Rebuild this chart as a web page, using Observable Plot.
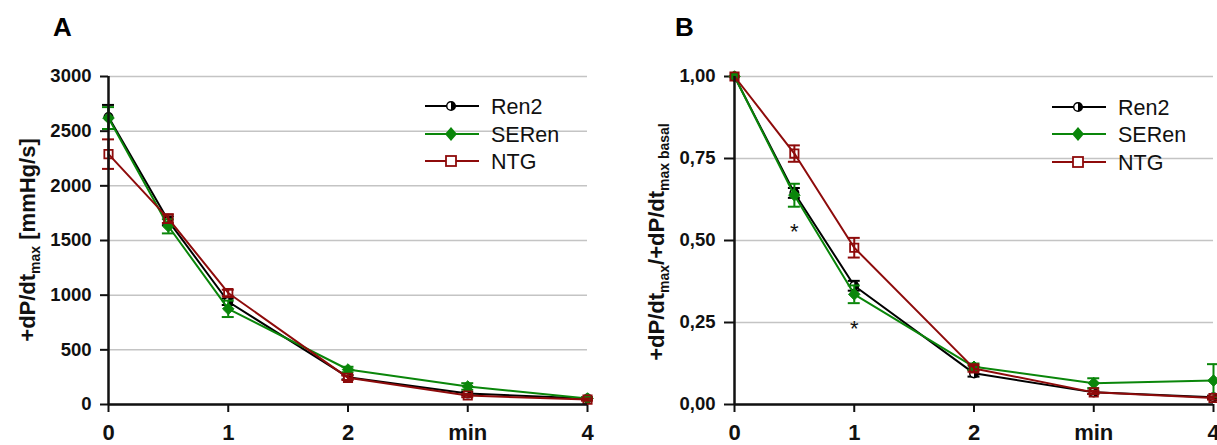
<!DOCTYPE html>
<html><head><meta charset="utf-8">
<script src="https://cdn.jsdelivr.net/npm/d3@7"></script>
<script src="https://cdn.jsdelivr.net/npm/@observablehq/plot@0.6"></script>
<style>
html,body{margin:0;padding:0;background:#fff;overflow:hidden;width:1217px;height:445px;}
#wrap{position:relative;width:1217px;height:445px;font-family:"Liberation Sans",Arial,Helvetica,sans-serif;}
.panel{position:absolute;top:0;}
.panel svg{max-width:none;overflow:visible;}
#overlay{position:absolute;left:0;top:0;pointer-events:none;}
</style>
</head><body>
<div id="wrap"><div class="panel" id="pA" style="left:0"></div><div class="panel" id="pB" style="left:609px"></div></div>
<script>
// ---------- data ----------
const seriesNames = ["Ren2", "SERen", "NTG"];
const seriesColors = ["#000000", "#0a860a", "#8e0b0b"];
const times = [0, 0.5, 1, 2, 3, 4];
const xTicks = [0, 1, 2, 3, 4];
const xTickLabels = ["0", "1", "2", "min", "4"];

// Panel A: +dP/dt max [mmHg/s]
const ren2A = [2630, 1680, 940, 250, 100, 55];
const ren2AErr = [110, 40, 30, 20, 15, 10];
const serenA = [2620, 1630, 875, 320, 165, 55];
const serenAErr = [100, 65, 75, 25, 30, 10];
const ntgA = [2290, 1700, 1020, 244, 82, 45];
const ntgAErr = [135, 40, 30, 20, 15, 10];
const yTicksA = [0, 500, 1000, 1500, 2000, 2500, 3000];

// Panel B: normalised to basal
const ren2B = [1, 0.645, 0.362, 0.095, 0.037, 0.022];
const ren2BErr = [0, 0.015, 0.015, 0.01, 0.005, 0.005];
const serenB = [1, 0.638, 0.336, 0.115, 0.065, 0.073];
const serenBErr = [0, 0.035, 0.027, 0.01, 0.015, 0.05];
const ntgB = [1, 0.765, 0.478, 0.11, 0.037, 0.02];
const ntgBErr = [0, 0.025, 0.03, 0.01, 0.005, 0.005];
const yTicksB = [0, 0.25, 0.5, 0.75, 1];
const starTimes = [0.5, 1];
const starValues = [0.54, 0.245];

// ---------- helpers ----------
function rows(vals, errs) {
  const out = [];
  vals.forEach((vs, si) => vs.forEach((v, i) => out.push({series: seriesNames[si], t: times[i], v, e: errs[si][i]})));
  return out;
}
const halfRight = {draw(ctx, size) { const r = Math.sqrt(size / Math.PI); ctx.moveTo(0, -r); ctx.arc(0, 0, r, -Math.PI / 2, Math.PI / 2); ctx.closePath(); }};
const ringSym = {draw(ctx, size) { const r = Math.sqrt(size / Math.PI); ctx.moveTo(r, 0); ctx.arc(0, 0, r, 0, 2 * Math.PI); ctx.closePath(); }};
const capW = 0.05;

function seriesMarks(data) {
  const marks = [];
  seriesNames.forEach((name, si) => {
    const d = data.filter(r => r.series === name);
    const c = seriesColors[si];
    const de = d.filter(r => r.e > 0);
    marks.push(Plot.line(d, {x: "t", y: "v", stroke: c, strokeWidth: 2}));
    marks.push(Plot.ruleX(de, {x: "t", y1: r => r.v - r.e, y2: r => r.v + r.e, stroke: c, strokeWidth: 2}));
    marks.push(Plot.ruleY(de, {y: r => r.v + r.e, x1: r => r.t - capW, x2: r => r.t + capW, stroke: c, strokeWidth: 2}));
    marks.push(Plot.ruleY(de, {y: r => r.v - r.e, x1: r => r.t - capW, x2: r => r.t + capW, stroke: c, strokeWidth: 2}));
    if (name === "Ren2") {
      marks.push(Plot.dot(d, {x: "t", y: "v", symbol: ringSym, r: 4.3, fill: "white", stroke: c, strokeWidth: 1.5}));
      marks.push(Plot.dot(d, {x: "t", y: "v", symbol: halfRight, r: 4.3, fill: c, stroke: "none"}));
    } else if (name === "SERen") {
      marks.push(Plot.dot(d, {x: "t", y: "v", symbol: "diamond2", r: 5.2, fill: c, stroke: c, strokeWidth: 1}));
    } else {
      marks.push(Plot.dot(d, {x: "t", y: "v", symbol: "square2", r: 5.3, fill: "white", fillOpacity: 0, stroke: c, strokeWidth: 1.8}));
    }
  });
  return marks;
}

function panel(opts) {
  return Plot.plot({
    width: 608, height: 445,
    marginLeft: opts.ml, marginRight: opts.mr, marginTop: 76, marginBottom: 41,
    style: {fontFamily: '"Liberation Sans",Arial,Helvetica,sans-serif', background: "white", overflow: "visible"},
    x: {domain: [0, 4]},
    y: {domain: opts.yDomain},
    marks: [
      Plot.gridY(opts.yTicks, {stroke: "#c4c4c4", strokeOpacity: 1, strokeWidth: 1.5}),
      Plot.axisY(opts.yTicks, {tickSize: opts.ts, tickPadding: 9, fontSize: 18.5, fontWeight: "bold", fill: "#111", tickFormat: opts.yFmt, label: null, strokeWidth: 2, stroke: "#111"}),
      Plot.axisX(xTicks, {tickSize: 8, tickPadding: 12, fontSize: 22, fontWeight: "bold", fill: "#111", tickFormat: (d, i) => xTickLabels[xTicks.indexOf(d)], label: null, strokeWidth: 2, stroke: "#111"}),
      ...seriesMarks(opts.data),
      ...(opts.extra || []),
      Plot.ruleX([0], {stroke: "#111", strokeWidth: 2.5}),
      Plot.ruleY([0], {stroke: "#111", strokeWidth: 2.5})
    ]
  });
}

const dataA = rows([ren2A, serenA, ntgA], [ren2AErr, serenAErr, ntgAErr]);
const dataB = rows([ren2B, serenB, ntgB], [ren2BErr, serenBErr, ntgBErr]);
const stars = starTimes.map((t, i) => ({t, v: starValues[i]}));
const fmtB = d3.format(".2f");

document.getElementById("pA").appendChild(panel({
  ml: 108, mr: 21, yDomain: [0, 3000], yTicks: yTicksA, ts: 8, yFmt: d => String(d), data: dataA
}));
document.getElementById("pB").appendChild(panel({
  ml: 125, mr: 4, yDomain: [0, 1], yTicks: yTicksB, ts: 10, yFmt: d => fmtB(d).replace(".", ","), data: dataB,
  extra: [Plot.text(stars, {x: "t", y: "v", text: () => "*", fontSize: 22, fill: "#111", dy: 5})]
}));

// ---------- overlay: letters, axis titles, legends ----------
const ov = d3.select("#wrap").append("svg").attr("id", "overlay").attr("width", 1217).attr("height", 445)
  .style("font-family", '"Liberation Sans",Arial,Helvetica,sans-serif');
ov.append("text").attr("x", 53).attr("y", 36).attr("font-size", 26).attr("font-weight", "bold").text("A");
ov.append("text").attr("x", 675).attr("y", 36).attr("font-size", 26).attr("font-weight", "bold").text("B");

const la = ov.append("text").attr("transform", "translate(35,240) rotate(-90)").attr("text-anchor", "middle")
  .attr("font-size", 22).attr("font-weight", "bold").attr("fill", "#111");
la.append("tspan").text("+dP/dt");
la.append("tspan").attr("font-size", 14).attr("dy", 5).text("max");
la.append("tspan").attr("dy", -5).text(" [mmHg/s]");

const lb = ov.append("text").attr("transform", "translate(664,242) rotate(-90)").attr("text-anchor", "middle")
  .attr("font-size", 22).attr("font-weight", "bold").attr("fill", "#111");
lb.append("tspan").text("+dP/dt");
lb.append("tspan").attr("font-size", 14).attr("dy", 5).text("max");
lb.append("tspan").attr("dy", -5).text("/+dP/dt");
lb.append("tspan").attr("font-size", 14).attr("dy", 5).text("max basal");

function legend(x0, x1, xm, xt, ys) {
  seriesNames.forEach((name, i) => {
    const y = ys[i], c = seriesColors[i];
    ov.append("line").attr("x1", x0).attr("x2", x1).attr("y1", y).attr("y2", y).attr("stroke", c).attr("stroke-width", 2);
    if (name === "Ren2") {
      ov.append("circle").attr("cx", xm).attr("cy", y).attr("r", 4.3).attr("fill", "white").attr("stroke", c).attr("stroke-width", 1.5);
      ov.append("path").attr("d", d3.arc()({innerRadius: 0, outerRadius: 4.3, startAngle: 0, endAngle: Math.PI})).attr("transform", `translate(${xm},${y})`).attr("fill", c);
    } else if (name === "SERen") {
      ov.append("path").attr("d", `M${xm},${y - 7}L${xm + 6},${y}L${xm},${y + 7}L${xm - 6},${y}Z`).attr("fill", c);
    } else {
      ov.append("rect").attr("x", xm - 5).attr("y", y - 5).attr("width", 10).attr("height", 10).attr("fill", "white").attr("stroke", c).attr("stroke-width", 1.8);
    }
    ov.append("text").attr("x", xt).attr("y", y).attr("dy", "0.36em").attr("font-size", 21.5).attr("fill", "#111").text(name);
  });
}
legend(425, 479, 451, 491, [106, 134, 161]);
legend(1052, 1106, 1078, 1118, [107, 134, 162]);
</script>
</body></html>
